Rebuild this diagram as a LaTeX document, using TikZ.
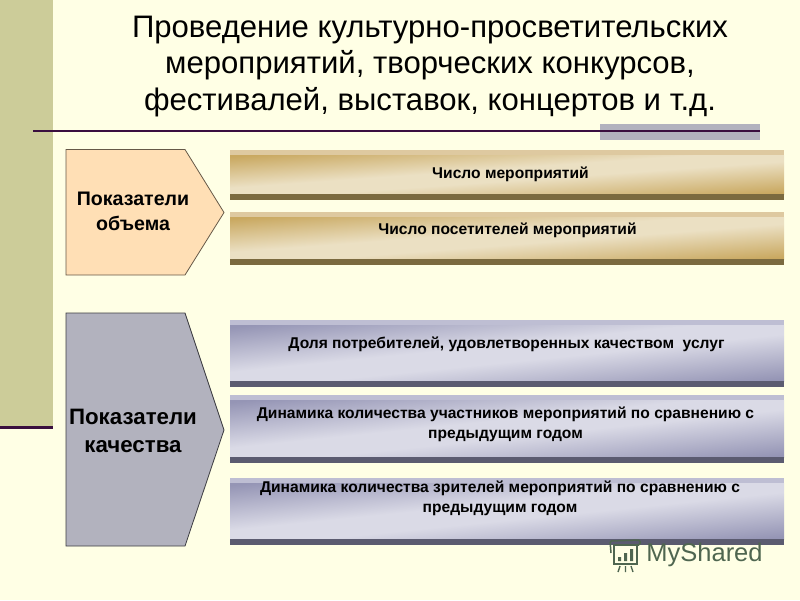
\documentclass[tikz,border=0pt]{standalone}
\usepackage{fontspec}
\setmainfont{Liberation Sans}
% colour = light + t*(dark-light), t peaks at the top-left and bottom-right corners
\pgfdeclarefunctionalshading{tanbar}{\pgfpoint{0bp}{0bp}}{\pgfpoint{100bp}{100bp}}{}{
 sub abs 50 div 1.25 mul 0.2 sub
 dup 0 lt {pop 0} if dup 1 gt {pop 1} if
 dup -0.134 mul 0.922 add exch dup -0.219 mul 0.878 add exch -0.389 mul 0.765 add
}
\pgfdeclarefunctionalshading{bluebar}{\pgfpoint{0bp}{0bp}}{\pgfpoint{100bp}{100bp}}{}{
 sub abs 50 div 1.25 mul 0.2 sub
 dup 0 lt {pop 0} if dup 1 gt {pop 1} if
 dup -0.271 mul 0.855 add exch dup -0.271 mul 0.855 add exch -0.192 mul 0.902 add
}
\definecolor{bg}{HTML}{FFFFE5}
\definecolor{side}{HTML}{CCCC99}
\definecolor{plum}{HTML}{3A0F3F}
\definecolor{greyb}{HTML}{B2B2BE}
\definecolor{peach}{HTML}{FFDFB5}
\definecolor{tantop}{HTML}{DEC9A0}
\definecolor{tanbase}{HTML}{7B6A3F}
\definecolor{bltop}{HTML}{BEBED3}
\definecolor{blbase}{HTML}{5B5B70}
\definecolor{wmark}{HTML}{4F6650}
\tikzset{
 x=1pt,y=-1pt,
 barlabel/.style={font=\bfseries\fontsize{15.6}{19.5}\selectfont,text=black,align=center,inner sep=0pt},
 headlabel/.style={font=\bfseries\fontsize{19.6}{25}\selectfont,align=center,inner sep=0pt},
 bigheadlabel/.style={font=\bfseries\fontsize{22.3}{28}\selectfont,align=center,inner sep=0pt},
 tagshape/.style={draw=#1,line width=0.8pt},
 iconline/.style={draw=wmark,line width=1.5pt},
}
% #1 shading, #2 top stripe, #3 base stripe, #4 top y, #5 bottom y
\newcommand{\shbar}[5]{%
 \fill[#2] (230,#4) rectangle (784,#5);
 \shade[shading=#1] (230,#4+5) rectangle (784,#5-6);
 \fill[#3] (230,#5-6) rectangle (784,#5);
}
\begin{document}
\begin{tikzpicture}
\useasboundingbox (0,0) rectangle (800,600);
\fill[bg] (0,0) rectangle (800,600);
\fill[side] (0,0) rectangle (53,426);
\fill[plum] (0,425.5) rectangle (53,428.5);
\fill[greyb] (600,124) rectangle (760,140);
\coordinate (ruleL) at (33,131);
\coordinate (ruleR) at (760,131);
\draw[plum,line width=1.3pt] (ruleL) -- (ruleR);
\node[inner sep=0pt,align=center,font=\fontsize{31.1}{36.7}\selectfont] (title) at (430,66.5)
 {Проведение культурно-просветительских\\мероприятий, творческих конкурсов,\\фестивалей, выставок, концертов и т.д.};

\shbar{tanbar}{tantop}{tanbase}{150}{200}
\shbar{tanbar}{tantop}{tanbase}{212}{265}
\shbar{bluebar}{bltop}{blbase}{320}{387}
\shbar{bluebar}{bltop}{blbase}{395}{463}
\shbar{bluebar}{bltop}{blbase}{478}{545}

\node[barlabel] (b1) at (510.5,174) {Число мероприятий};
\node[barlabel] (b2) at (507.5,230.5) {Число посетителей мероприятий};
\node[barlabel] (b3) at (506.5,344) {Доля потребителей, удовлетворенных качеством\ \ услуг};
\node[barlabel] (b4) at (505.5,424.5) {Динамика количества участников мероприятий по сравнению с\\предыдущим годом};
\node[barlabel] (b5) at (500,498.5) {Динамика количества зрителей мероприятий по сравнению с\\предыдущим годом};

\filldraw[tagshape=black!60!peach,fill=peach] (66,149.5) -- (185,149.5) -- (224,212.5) -- (185,275) -- (66,275) -- cycle;
\node[headlabel] (h1) at (133,211.5) {Показатели\\объема};
\filldraw[tagshape=black!65!greyb,fill=greyb] (66,313) -- (185,313) -- (224,430) -- (185,546) -- (66,546) -- cycle;
\node[bigheadlabel] (h2) at (133,430.5) {Показатели\\качества};

% watermark
\draw[iconline,rounded corners=1.5pt] (611,553) -- (610,541) -- (640,540) -- (640,545) -- (613,545);
\draw[iconline] (614,545) rectangle (637,564);
\fill[wmark] (618,557) rectangle (621,561) (624,553) rectangle (627,561) (630,549) rectangle (633,561);
\draw[iconline,line width=1.4pt] (620,566) -- (618,572) (625.5,566) -- (625.5,572) (631,566) -- (633,572);
\node[inner sep=0pt,text=wmark,font=\fontsize{25.5}{28}\selectfont] (wm) at (704.5,554.5) {MyShared};
\end{tikzpicture}
\end{document}
